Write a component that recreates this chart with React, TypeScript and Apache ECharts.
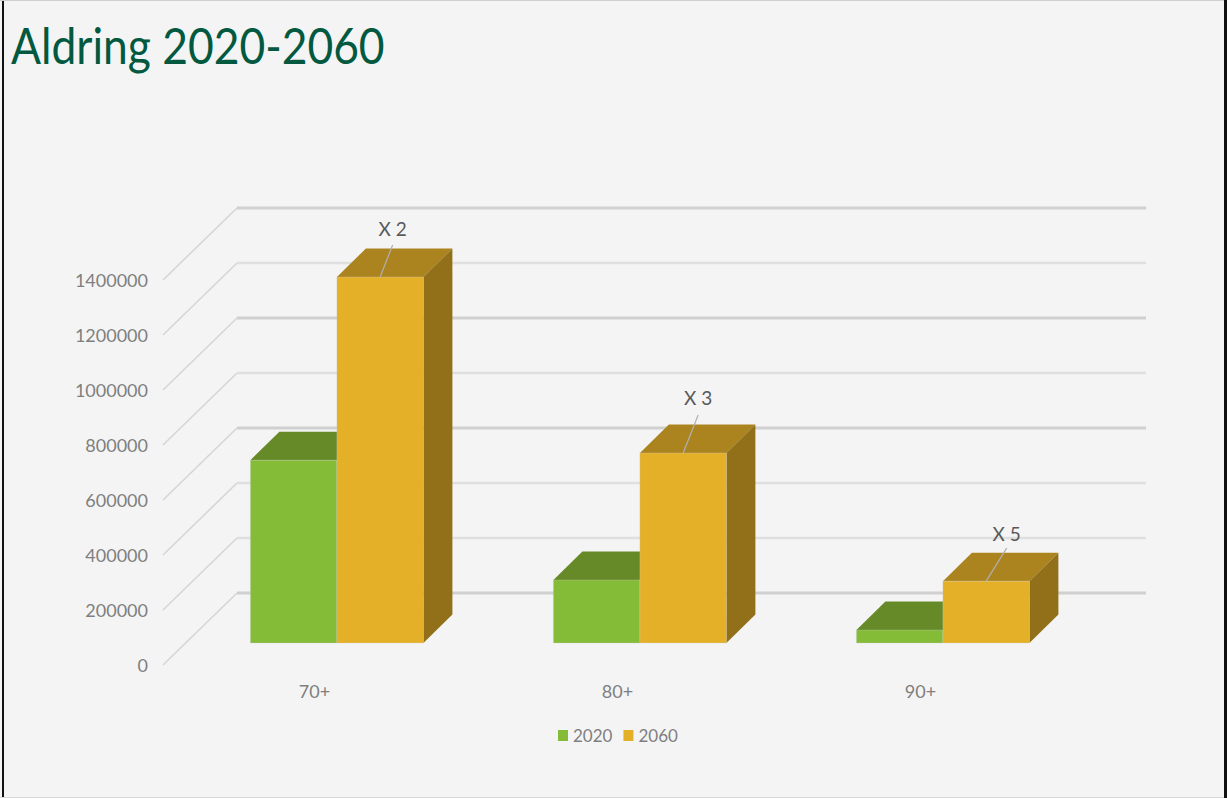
import React, { useEffect, useRef } from "react";
import * as echarts from "echarts";

const categories = ["70+", "80+", "90+"];
const values2020 = [665000, 229000, 47000];
const values2060 = [1331000, 691000, 225000];
const yTicks = [0, 200000, 400000, 600000, 800000, 1000000, 1200000, 1400000];
const multipliers = ["X 2", "X 3", "X 5"];

const FONT = "Lato, 'Noto Sans', sans-serif";
const WALL_DX = 74;
const WALL_DY = -72;
const BAR_SHIFT_X = 22.4;
const BAR_SHIFT_Y = -22;
const BAR_DX = 29;
const BAR_DY = -28.5;
const BAR_FRACTION = 86.5 / 303;
const LABEL_OFFSETS = [
  [12.5, -48],
  [15, -55],
  [20.5, -48],
];
const LEADER_STARTS = [-16, -17, -15];
const THICK_TICKS = [0, 600000, 1000000, 1400000];

function boxRenderer(side: number, front: string, top: string, right: string, withLabel: boolean) {
  return (params: any, api: any) => {
    const cat = api.value(0);
    const val = api.value(1);
    const band = api.size([1, 0])[0];
    const w = band * BAR_FRACTION;
    const base = api.coord([cat, 0]);
    const head = api.coord([cat, val]);
    const x0 = base[0] + BAR_SHIFT_X + (side < 0 ? -w : 0);
    const x1 = x0 + w;
    const yb = base[1] + BAR_SHIFT_Y;
    const yt = head[1] + BAR_SHIFT_Y;
    const edge = { stroke: "rgba(205,205,205,0.3)", lineWidth: 1 };
    const poly = (points: number[][], fill: string, s: any = {}) => ({
      type: "polygon",
      shape: { points },
      style: { fill, ...s },
    });
    const children: any[] = [
      poly([[x0, yt], [x0 + BAR_DX, yt + BAR_DY], [x1 + BAR_DX, yt + BAR_DY], [x1, yt]], top),
      poly([[x1, yt], [x1 + BAR_DX, yt + BAR_DY], [x1 + BAR_DX, yb + BAR_DY], [x1, yb]], right),
      poly([[x0, yt], [x1, yt], [x1, yb], [x0, yb]], front, edge),
    ];
    if (withLabel) {
      const i = params.dataIndex;
      const cx = (x0 + x1) / 2;
      const lx = cx + LABEL_OFFSETS[i][0];
      const ly = yt + LABEL_OFFSETS[i][1];
      children.push({
        type: "line",
        shape: { x1: cx, y1: yt, x2: lx, y2: ly - LEADER_STARTS[i] },
        style: { stroke: "#b0b0b0", lineWidth: 1.2 },
      });
      children.push({
        type: "text",
        style: {
          x: lx,
          y: ly,
          text: multipliers[i],
          fill: "#595959",
          fontFamily: FONT,
          fontSize: 19,
          textAlign: "center",
          textVerticalAlign: "middle",
        },
      });
    }
    return { type: "group", children };
  };
}

function wallRenderer(_params: any, api: any) {
  const v = api.value(1);
  const band = api.size([1, 0])[0];
  const left = api.coord([0, v]);
  const right = api.coord([categories.length - 1, v]);
  const xl = left[0] - band / 2;
  const xr = right[0] + band / 2;
  const y = left[1];
  const thick = THICK_TICKS.includes(v);
  return {
    type: "group",
    children: [
      {
        type: "line",
        shape: { x1: xl, y1: y, x2: xl + WALL_DX, y2: y + WALL_DY },
        style: { stroke: "#d6d6d6", lineWidth: 1.6 },
      },
      {
        type: "line",
        shape: { x1: xl + WALL_DX, y1: y + WALL_DY, x2: xr + WALL_DX, y2: y + WALL_DY },
        style: { stroke: thick ? "#d0d0d0" : "#dfdfdf", lineWidth: thick ? 3 : 2.5 },
      },
    ],
  };
}

export default function App() {
  const ref = useRef<HTMLDivElement>(null);
  useEffect(() => {
    const chart = echarts.init(ref.current!, null, { renderer: "svg" });
    chart.setOption({
      animation: false,
      backgroundColor: "#f4f4f4",
      legend: {
        data: ["2020", "2060"],
        left: 553,
        top: 722,
        icon: "rect",
        itemWidth: 10,
        itemHeight: 11,
        itemGap: 11,
        textStyle: { color: "#7f7f7f", fontFamily: FONT, fontSize: 17 },
      },
      grid: { left: 163, right: 155, top: 280, bottom: 133 },
      xAxis: {
        type: "category",
        data: categories,
        axisLine: { show: false },
        axisTick: { show: false },
        axisLabel: { color: "#7f7f7f", fontFamily: FONT, fontSize: 18, margin: 17 },
      },
      yAxis: {
        type: "value",
        min: 0,
        max: 1400000,
        interval: 200000,
        axisLine: { show: false },
        axisTick: { show: false },
        splitLine: { show: false },
        axisLabel: {
          color: "#7f7f7f",
          fontFamily: FONT,
          fontSize: 18,
          margin: 15,
          padding: [0, 0, 8, 0],
          formatter: (v: number) => String(v),
        },
      },
      graphic: [
        { type: "rect", silent: true, shape: { x: 2, y: 0, width: 2, height: 798 }, style: { fill: "#111" } },
        { type: "rect", silent: true, shape: { x: 1224, y: 0, width: 3, height: 798 }, style: { fill: "#111" } },
        { type: "rect", silent: true, shape: { x: 0, y: 0, width: 1224, height: 1 }, style: { fill: "#cfcfcf" } },
        { type: "rect", silent: true, shape: { x: 0, y: 797, width: 1224, height: 1 }, style: { fill: "#d8d8d8" } },
        {
          type: "text",
          silent: true,
          x: 11,
          y: 19,
          scaleX: 0.87,
          style: {
            text: "Aldring 2020-2060",
            fill: "#02593f",
            fontFamily: FONT,
            fontSize: 51,
          },
        },
      ],
      series: [
        {
          name: "wall",
          type: "custom",
          renderItem: wallRenderer,
          data: yTicks.map((v) => [0, v]),
          encode: { x: 0, y: 1 },
          silent: true,
        },
        {
          name: "2020",
          type: "custom",
          itemStyle: { color: "#84bb37" },
          renderItem: boxRenderer(-1, "#84bb37", "#658a27", "#5a7b22", false),
          data: values2020.map((v, i) => [i, v]),
          encode: { x: 0, y: 1 },
          silent: true,
        },
        {
          name: "2060",
          type: "custom",
          itemStyle: { color: "#e4b027" },
          renderItem: boxRenderer(1, "#e4b027", "#ac841f", "#92701a", true),
          data: values2060.map((v, i) => [i, v]),
          encode: { x: 0, y: 1 },
          silent: true,
        },
      ],
    });
    return () => chart.dispose();
  }, []);
  return <div ref={ref} style={{ position: "absolute", left: 0, top: 0, width: 1227, height: 798 }} />;
}
